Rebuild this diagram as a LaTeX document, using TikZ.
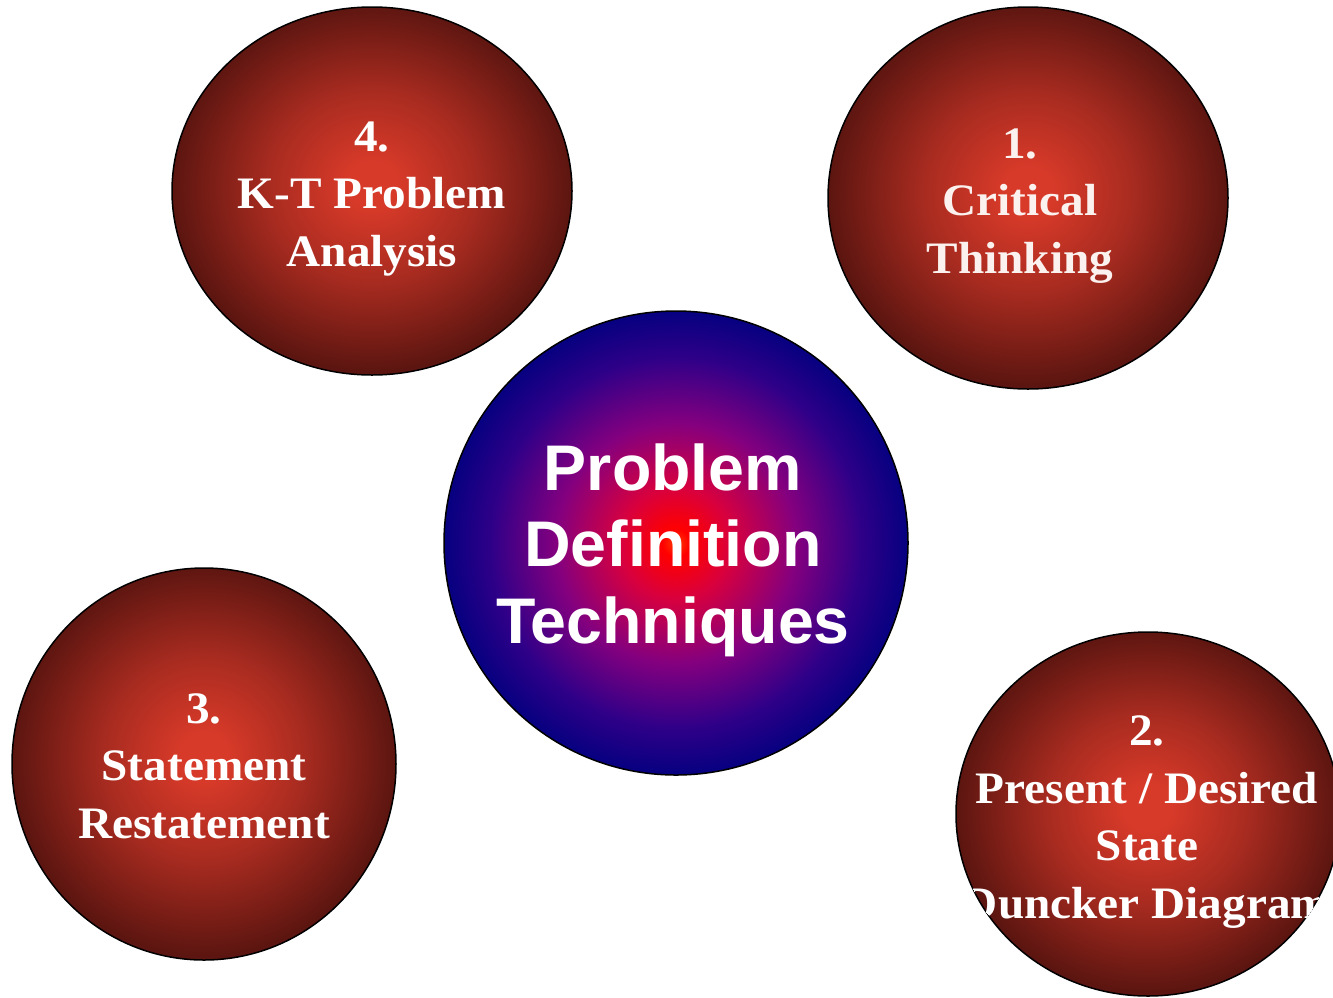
\documentclass[tikz,border=0pt]{standalone}
\usepackage{fontspec}
\setmainfont{Liberation Serif}
\newfontfamily\ballfont{Liberation Serif}[FakeStretch=1.05]
\newfontfamily\hubfont{Liberation Sans}
\usetikzlibrary{shapes.geometric}
\usepackage{xcolor}

\definecolor{ballcore}{HTML}{D83A29}
\definecolor{ballmid}{HTML}{A82B20}
\definecolor{ballrim}{HTML}{5C1510}
\definecolor{hubcore}{HTML}{FF3A00}
\definecolor{hubred}{HTML}{FF0000}
\definecolor{hubcrimson}{HTML}{D8003E}
\definecolor{hubpurple}{HTML}{83007F}
\definecolor{hubviolet}{HTML}{2E0088}
\definecolor{hubrim}{HTML}{060080}
\definecolor{chalk}{HTML}{FBF1EE}

\pgfdeclareradialshading{redball}{\pgfpoint{0bp}{1bp}}{color(0bp)=(ballcore); color(3bp)=(ballcore); color(13bp)=(ballmid); color(25bp)=(ballrim); color(50bp)=(ballrim)}
\pgfdeclareradialshading{blueball}{\pgfpoint{0bp}{0bp}}{color(0bp)=(hubcore); color(1.5bp)=(hubred); color(6bp)=(hubcrimson); color(13bp)=(hubpurple); color(20bp)=(hubviolet); color(25bp)=(hubrim); color(50bp)=(hubrim)}

\begin{document}
\begin{tikzpicture}[
        x=1pt, y=-1pt,
        ball/.style={ellipse, draw=black, line width=1.5pt, shading=redball, inner sep=0pt},
        hub/.style={ellipse, draw=black, line width=1.5pt, shading=blueball, inner sep=0pt},
        balltext/.style={text=white, align=center, anchor=base, inner sep=0pt, font=\ballfont\bfseries\fontsize{45}{57.5}\selectfont},
        hubtext/.style={text=white, align=center, anchor=base, inner sep=0pt, font=\hubfont\bfseries\fontsize{64.5}{76.5}\selectfont}
    ]
        \useasboundingbox (0,0) rectangle (1333,997);

        \node [ball, minimum width=400pt, minimum height=368pt] (kt) at (372,191) {};
        \node [ball, minimum width=400pt, minimum height=382pt] (critical) at (1028,198) {};
        \node [ball, minimum width=384pt, minimum height=392pt] (statement) at (204,764) {};
        \node [ball, minimum width=384pt, minimum height=364pt] (duncker) at (1148,814) {};
        \node [hub, minimum width=464pt, minimum height=464pt] (hub) at (676,543) {};

        % base anchor sits on the last line
        \node [balltext] (kt-label) at (372,266) {4.\\K-T Problem\\Analysis};
        \node [balltext, text=chalk] (critical-label) at (1020,273) {1.\\Critical\\Thinking};
        \node [balltext] (statement-label) at (204,838) {3.\\Statement\\Restatement};
        \begin{scope}
            \clip (duncker.center) ellipse [x radius=192pt, y radius=182pt];
            \node [balltext] (duncker-label) at (1147,918) {2.\\Present / Desired\\State\\Duncker Diagram};
        \end{scope}

        \node [hubtext] (hub-label) at (673,643) {Problem\\Definition\\Techniques};
    \end{tikzpicture}
\end{document}
